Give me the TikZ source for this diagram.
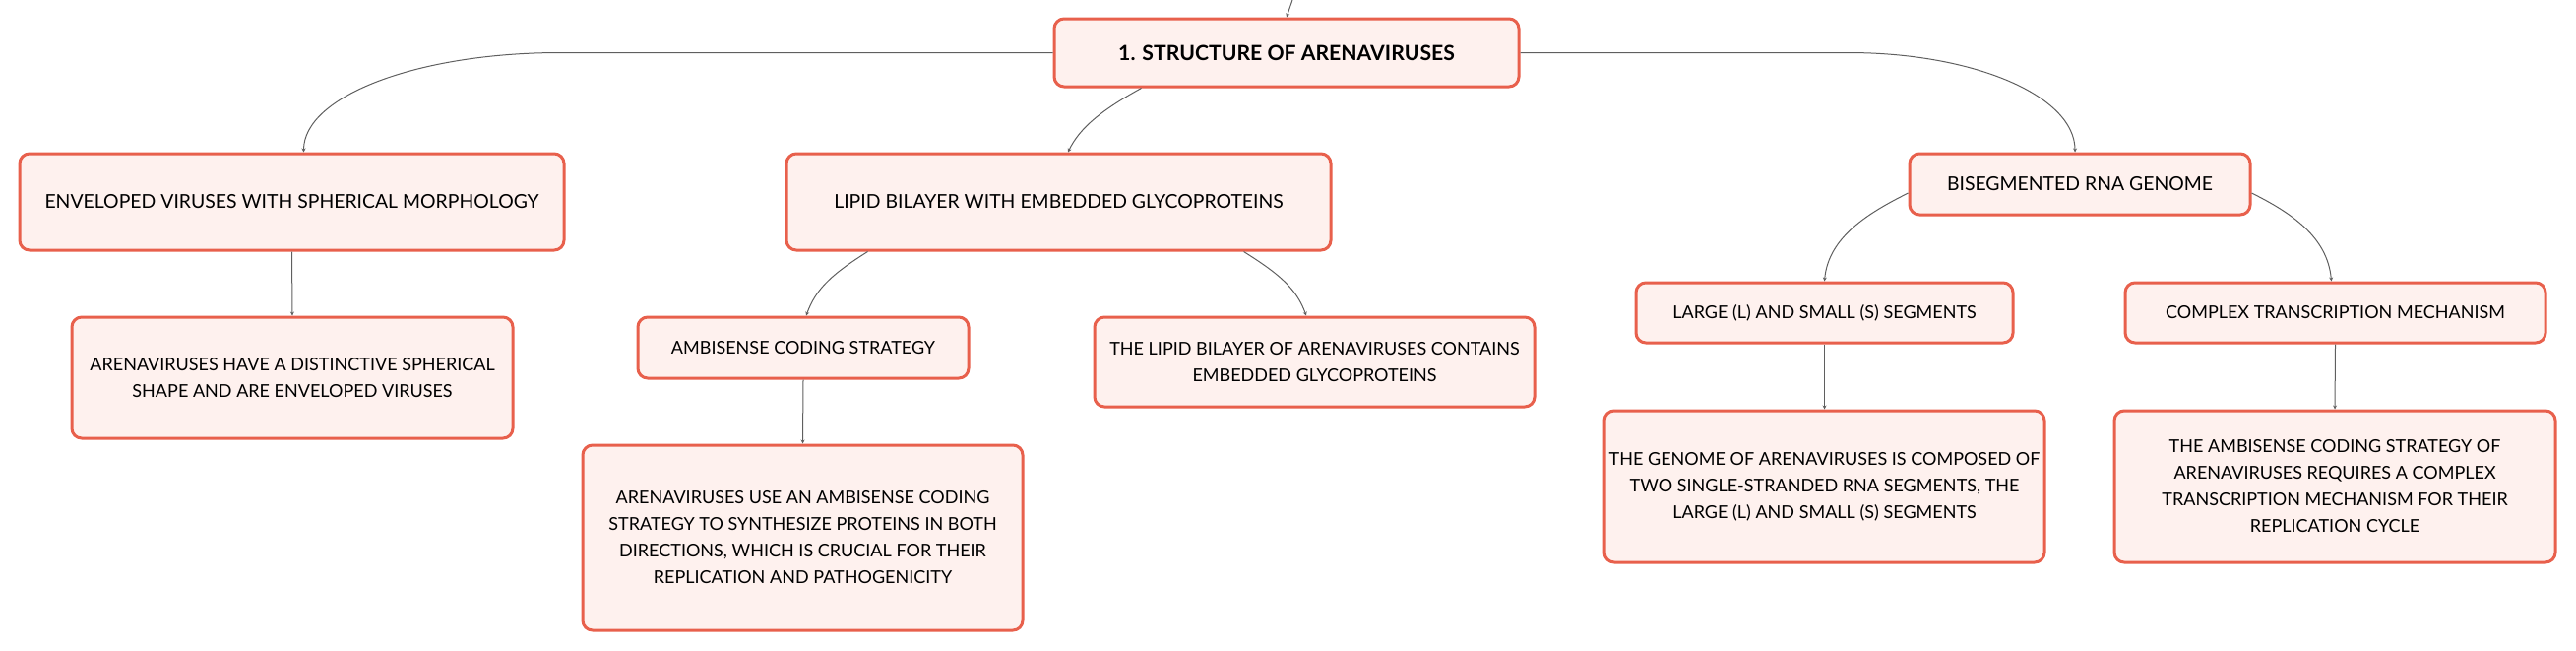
\documentclass[tikz,border=0pt]{standalone}
\usepackage{fontspec}
\setmainfont{Lato}
\usepackage{tikz}
\usetikzlibrary{arrows.meta}

\definecolor{boxline}{HTML}{E8604C}
\definecolor{boxfill}{HTML}{FEF1EE}
\definecolor{linkgray}{HTML}{5F5F5F}

\begin{document}
\begin{tikzpicture}[x=0.5pt,y=-0.5pt,
    box/.style={draw=boxline, fill=boxfill, line width=1.5pt, rounded corners=5pt, align=center, inner sep=0pt},
    top/.style={box, font=\bfseries\fontsize{10.6}{14}\selectfont},
    mid/.style={box, font=\fontsize{9.7}{14}\selectfont},
    leaf/.style={box, font=\fontsize{9}{13.5}\selectfont},
    link/.style={draw=linkgray, line width=0.5pt, -{Stealth[length=2pt,width=2pt]}}]
\useasboundingbox (0,0) rectangle (2617,660);

% root and first level
\node[top, minimum width=236pt, minimum height=34.5pt] (root) at (1307,53.5) {1. STRUCTURE OF ARENAVIRUSES};
\node[mid, minimum width=276.5pt, minimum height=49pt] (env) at (296.5,205) {ENVELOPED VIRUSES WITH SPHERICAL MORPHOLOGY};
\node[mid, minimum width=276.5pt, minimum height=49pt] (lipid) at (1075.5,205) {LIPID BILAYER WITH EMBEDDED GLYCOPROTEINS};
\node[mid, minimum width=173pt, minimum height=31pt] (biseg) at (2113,187) {BISEGMENTED RNA GENOME};

% second level
\node[leaf, minimum width=224pt, minimum height=61.5pt] (envd) at (297,383.5) {ARENAVIRUSES HAVE A DISTINCTIVE SPHERICAL\\SHAPE AND ARE ENVELOPED VIRUSES};
\node[leaf, minimum width=168pt, minimum height=31pt] (ambi) at (816,353) {AMBISENSE CODING STRATEGY};
\node[leaf, minimum width=223.5pt, minimum height=45.5pt] (lipidd) at (1335.5,367.5) {THE LIPID BILAYER OF ARENAVIRUSES CONTAINS\\EMBEDDED GLYCOPROTEINS};
\node[leaf, minimum width=191.5pt, minimum height=30.5pt] (large) at (1853.5,317.5) {LARGE (L) AND SMALL (S) SEGMENTS};
\node[leaf, minimum width=213.5pt, minimum height=30.5pt] (complex) at (2372.5,317.5) {COMPLEX TRANSCRIPTION MECHANISM};

% third level
\node[leaf, minimum width=223.5pt, minimum height=94pt] (ambid) at (815.5,546) {ARENAVIRUSES USE AN AMBISENSE CODING\\STRATEGY TO SYNTHESIZE PROTEINS IN BOTH\\DIRECTIONS, WHICH IS CRUCIAL FOR THEIR\\REPLICATION AND PATHOGENICITY};
\node[leaf, minimum width=223.5pt, minimum height=77pt] (genome) at (1853.5,494) {THE GENOME OF ARENAVIRUSES IS COMPOSED OF\\TWO SINGLE-STRANDED RNA SEGMENTS, THE\\LARGE (L) AND SMALL (S) SEGMENTS};
\node[leaf, minimum width=224pt, minimum height=77pt] (repl) at (2372,494) {THE AMBISENSE CODING STRATEGY OF\\ARENAVIRUSES REQUIRES A COMPLEX\\TRANSCRIPTION MECHANISM FOR THEIR\\REPLICATION CYCLE};

% connectors
\coordinate (parent) at (1313,0);
\draw[link] (parent) -- (root.north);
\draw[link] (root.west) -- ++(-500,0) .. controls +(-145,0) and +(0,-57) .. ([xshift=6pt]env.north);
\draw[link] (root.east) -- ++(333,0) .. controls +(128,0) and +(0,-57) .. ([xshift=-2.5pt]biseg.north);
\draw[link] ([xshift=45pt]root.south west) .. controls +(-40,22) and +(12,-25) .. ([xshift=4.75pt]lipid.north);
\draw[link] ([xshift=42pt]lipid.south west) .. controls +(-35,22) and +(10,-28) .. ([xshift=1.5pt]ambi.north);
\draw[link] ([xshift=-45pt]lipid.south east) .. controls +(35,22) and +(-10,-28) .. ([xshift=-4.25pt]lipidd.north);
\draw[link] ([yshift=-4.5pt]biseg.west) .. controls +(-40,20) and +(4,-45) .. (large.north);
\draw[link] ([yshift=-4.5pt]biseg.east) .. controls +(40,20) and +(-4,-45) .. ([xshift=-2pt]complex.north);
\draw[link] (env.south) -- (envd.north);
\draw[link] (ambi.south) -- (ambid.north);
\draw[link] (large.south) -- (genome.north);
\draw[link] (complex.south) -- (repl.north);
\end{tikzpicture}
\end{document}
